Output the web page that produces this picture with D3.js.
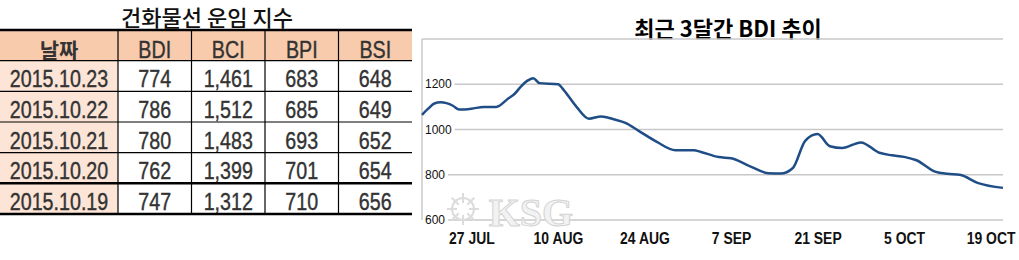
<!DOCTYPE html>
<html>
<head>
<meta charset="utf-8">
<script src="https://cdn.jsdelivr.net/npm/d3@7"></script>
<style>
  body { margin: 0; background: #fff; }
  svg { display: block; }
</style>
</head>
<body>
<div id="chart"></div>
<script>
// 표 데이터
const tableTitle = "건화물선 운임 지수";
const tableHeaders = ["날짜", "BDI", "BCI", "BPI", "BSI"];
const tableDates = ["2015.10.23", "2015.10.22", "2015.10.21", "2015.10.20", "2015.10.19"];
const bdiRows = [774, 786, 780, 762, 747];
const bciRows = [1461, 1512, 1483, 1399, 1312];
const bpiRows = [683, 685, 693, 701, 710];
const bsiRows = [648, 649, 652, 654, 656];

// 그래프 데이터
const chartTitle = "최근 3달간 BDI 추이";
const bdiDates = [
  "2015-07-19", "2015-07-20", "2015-07-21", "2015-07-22", "2015-07-24", "2015-07-25",
  "2015-07-27", "2015-07-29", "2015-07-31", "2015-08-02", "2015-08-03", "2015-08-04",
  "2015-08-05", "2015-08-06", "2015-08-07", "2015-08-10", "2015-08-11", "2015-08-13",
  "2015-08-15", "2015-08-17", "2015-08-19", "2015-08-21", "2015-08-23", "2015-08-26",
  "2015-08-29", "2015-09-01", "2015-09-02", "2015-09-05", "2015-09-07", "2015-09-10",
  "2015-09-13", "2015-09-15", "2015-09-17", "2015-09-19", "2015-09-21", "2015-09-23",
  "2015-09-25", "2015-09-28", "2015-10-01", "2015-10-03", "2015-10-05", "2015-10-07",
  "2015-10-10", "2015-10-12", "2015-10-14", "2015-10-17", "2015-10-21"
];
const bdiValues = [
  1065, 1092, 1115, 1120, 1105, 1088,
  1092, 1100, 1100, 1138, 1158, 1190,
  1215, 1227, 1205, 1200, 1172, 1100,
  1048, 1058, 1045, 1028, 995, 945,
  908, 908, 902, 878, 873, 838,
  807, 805, 830, 950, 980, 926,
  918, 943, 897, 886, 879, 864,
  814, 804, 800, 763, 742
];
const yTicks = [600, 800, 1000, 1200];
const yMax = 1400;
const xTickDates = ["2015-07-27", "2015-08-10", "2015-08-24", "2015-09-07", "2015-09-21", "2015-10-05", "2015-10-19"];
const xTickLabels = ["27 JUL", "10 AUG", "24 AUG", "7 SEP", "21 SEP", "5 OCT", "19 OCT"];

var width = 1019, height = 260;
var latin = "'Liberation Sans', Arial, sans-serif";
var korean = "'Noto Sans CJK KR', 'Noto Sans', sans-serif";
var squeeze = 0.82; // 좁은 글꼴 흉내

var svg = d3.select("#chart").append("svg").attr("width", width).attr("height", height);

// ---- 표 ----
var fmt = d3.format(",");
var rows = tableDates.map(function(d, i) {
  return [d, bdiRows[i], fmt(bciRows[i]), bpiRows[i], bsiRows[i]];
});

var colBand = d3.scaleBand().domain(d3.range(1, tableHeaders.length)).range([118, 412]);
var rowBand = d3.scaleBand().domain(d3.range(rows.length + 1)).range([30, 214]);
function cellX(c) { return c === 0 ? 0 : colBand(c); }
function cellW(c) { return c === 0 ? 118 : colBand.bandwidth(); }

svg.append("text")
  .attr("x", 207).attr("y", 26)
  .attr("text-anchor", "middle")
  .attr("font-family", korean).attr("font-size", "22px").attr("font-weight", 500)
  .attr("fill", "#111")
  .text(tableTitle);

var table = svg.append("g");

// 배경색
table.selectAll("rect.head")
  .data(tableHeaders).enter().append("rect")
  .attr("x", function(d, i) { return cellX(i); })
  .attr("y", rowBand(0))
  .attr("width", function(d, i) { return cellW(i); })
  .attr("height", rowBand.bandwidth())
  .attr("fill", "#f8cbad");

table.selectAll("rect.date")
  .data(rows).enter().append("rect")
  .attr("x", 0)
  .attr("y", function(d, i) { return rowBand(i + 1); })
  .attr("width", 118)
  .attr("height", rowBand.bandwidth())
  .attr("fill", "#fce4d6");

// 머리글
table.selectAll("text.head")
  .data(tableHeaders).enter().append("text")
  .attr("transform", function(d, i) {
    var s = i === 0 ? 1 : squeeze;
    return "translate(" + (cellX(i) + cellW(i) / 2) + "," + (rowBand(0) + rowBand.bandwidth() - 3) + ") scale(" + s + ",1)";
  })
  .attr("text-anchor", "middle")
  .attr("font-family", function(d, i) { return i === 0 ? korean : latin; })
  .attr("font-size", function(d, i) { return i === 0 ? "21px" : "24px"; })
  .attr("font-weight", function(d, i) { return i === 0 ? 700 : 400; })
  .attr("fill", "#333")
  .attr("stroke", function(d, i) { return i === 0 ? "none" : "#333"; })
  .attr("stroke-width", 0.4)
  .text(function(d) { return d; });

// 본문
rows.forEach(function(r, ri) {
  table.selectAll("text.r" + ri)
    .data(r).enter().append("text")
    .attr("transform", function(d, i) {
      return "translate(" + (cellX(i) + cellW(i) / 2) + "," + (rowBand(ri + 1) + rowBand.bandwidth() - 4) + ") scale(" + squeeze + ",1)";
    })
    .attr("text-anchor", "middle")
    .attr("font-family", latin)
    .attr("font-size", "24px")
    .attr("fill", "#333")
    .attr("stroke", "#333")
    .attr("stroke-width", 0.4)
    .text(function(d) { return d; });
});

// 선
var hLines = d3.range(rows.length + 2);
table.selectAll("line.h")
  .data(hLines).enter().append("line")
  .attr("x1", 0).attr("x2", 412)
  .attr("y1", function(i) { return i <= rows.length ? rowBand(i) : 214; })
  .attr("y2", function(i) { return i <= rows.length ? rowBand(i) : 214; })
  .attr("stroke", "#000")
  .attr("stroke-width", function(i) { return (i === 0 || i === rows.length || i === rows.length + 1) ? 2.5 : 1.2; });

table.selectAll("line.v")
  .data(d3.range(1, tableHeaders.length)).enter().append("line")
  .attr("x1", function(c) { return cellX(c); })
  .attr("x2", function(c) { return cellX(c); })
  .attr("y1", 30).attr("y2", 214)
  .attr("stroke", "#000").attr("stroke-width", 1.2);

// ---- 그래프 ----
var parse = d3.timeParse("%Y-%m-%d");
var series = bdiDates.map(function(d, i) { return { date: parse(d), value: bdiValues[i] }; });

var plotLeft = 422, plotRight = 1003, plotTop = 39, plotBottom = 220;
var x = d3.scaleTime().domain(d3.extent(series, function(d) { return d.date; })).range([plotLeft, plotRight]);
var y = d3.scaleLinear().domain([yTicks[0], yMax]).range([plotBottom, plotTop]);

svg.append("text")
  .attr("x", 728).attr("y", 37)
  .attr("text-anchor", "middle")
  .attr("font-family", korean).attr("font-size", "22px").attr("font-weight", 700)
  .attr("fill", "#000")
  .text(chartTitle);

var grid = svg.append("g");

// 테두리
grid.append("line")
  .attr("x1", plotLeft).attr("x2", plotRight).attr("y1", y(yMax)).attr("y2", y(yMax))
  .attr("stroke", "#c8c8c8").attr("stroke-width", 1.5);
grid.append("line")
  .attr("x1", plotLeft).attr("x2", plotLeft).attr("y1", y(yMax)).attr("y2", y(yTicks[0]))
  .attr("stroke", "#c8c8c8").attr("stroke-width", 1.5);

// 워터마크
var wm = svg.append("g");
wm.append("circle").attr("cx", 463).attr("cy", 209).attr("r", 11)
  .attr("fill", "none").attr("stroke", "#dcdcdc").attr("stroke-width", 2);
wm.selectAll("line.spoke").data(d3.range(8)).enter().append("line")
  .attr("x1", function(k) { return 463 + 6 * Math.cos(k * Math.PI / 4); })
  .attr("y1", function(k) { return 209 + 6 * Math.sin(k * Math.PI / 4); })
  .attr("x2", function(k) { return 463 + 16 * Math.cos(k * Math.PI / 4); })
  .attr("y2", function(k) { return 209 + 16 * Math.sin(k * Math.PI / 4); })
  .attr("stroke", "#dcdcdc").attr("stroke-width", 2);
wm.append("text")
  .attr("x", 531).attr("y", 226)
  .attr("text-anchor", "middle")
  .attr("font-family", "'Liberation Serif', serif").attr("font-weight", 700)
  .attr("font-size", "40px")
  .attr("fill", "#f2f2f2").attr("stroke", "#d4d4d4").attr("stroke-width", 1)
  .text("KSG");

// 눈금선 + 라벨
yTicks.forEach(function(t) {
  var lbl = grid.append("text")
    .attr("x", plotLeft + 3).attr("y", y(t))
    .attr("dy", "0.35em")
    .attr("font-family", latin)
    .attr("font-size", "12px")
    .attr("fill", "#111")
    .text(t);
  var end = plotLeft + 3 + lbl.node().getComputedTextLength() + 3;
  grid.insert("line", "text")
    .attr("x1", end).attr("x2", plotRight)
    .attr("y1", y(t)).attr("y2", y(t))
    .attr("stroke", "#c8c8c8").attr("stroke-width", 1.5);
});

// x축
var xAxis = d3.axisBottom(x)
  .tickValues(xTickDates.map(parse))
  .tickFormat(function(d, i) { return xTickLabels[i]; })
  .tickSize(0);

var gx = svg.append("g").attr("transform", "translate(0," + plotBottom + ")").call(xAxis);
gx.select(".domain").remove();
gx.selectAll(".tick text")
  .attr("x", null).attr("y", null).attr("dy", null)
  .attr("transform", "translate(0,24) scale(" + squeeze + ",1)")
  .attr("font-family", latin)
  .attr("font-weight", 700)
  .attr("font-size", "17px")
  .attr("fill", "#111");

// 선 그래프
var line = d3.line()
  .x(function(d) { return x(d.date); })
  .y(function(d) { return y(d.value); })
  .curve(d3.curveMonotoneX);

svg.append("path")
  .datum(series)
  .attr("d", line)
  .attr("fill", "none")
  .attr("stroke", "#1f4e86")
  .attr("stroke-width", 2.5)
  .attr("stroke-linejoin", "round");
</script>
</body>
</html>
